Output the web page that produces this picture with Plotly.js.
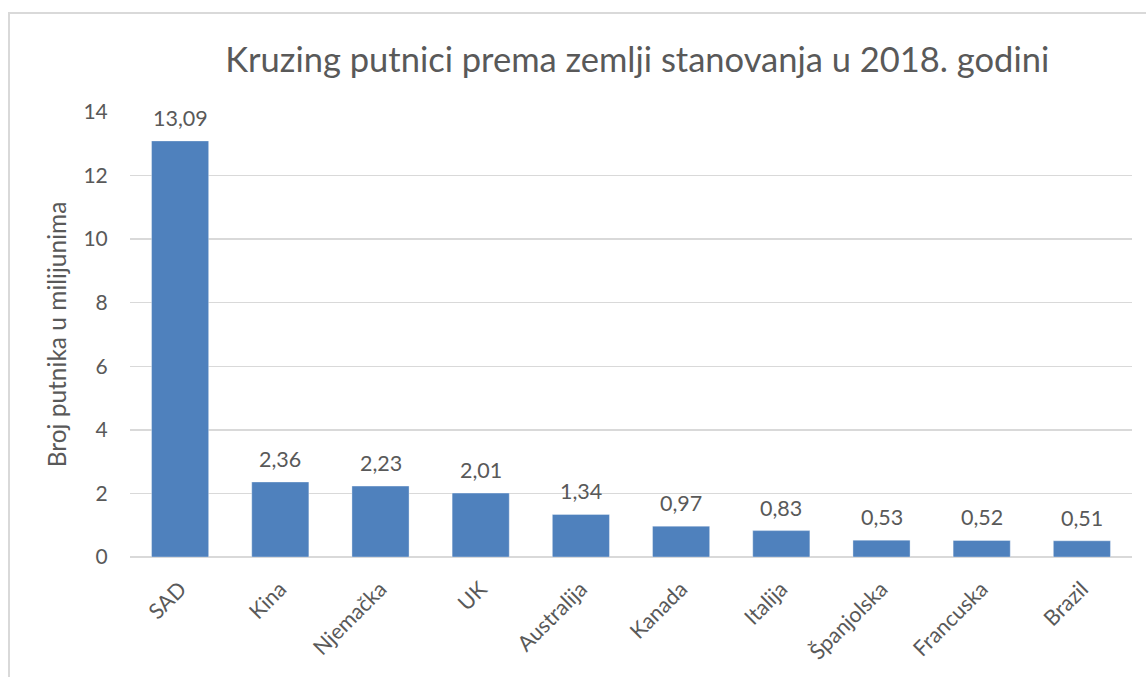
<!DOCTYPE html>
<html>
<head>
<meta charset="utf-8">
<script src="https://cdn.plot.ly/plotly-3.0.1.min.js"></script>
<style>
  html, body { margin: 0; padding: 0; background: #fff; overflow: hidden; }
  #wrap { position: relative; width: 1146px; height: 677px; }
  #chart { position: absolute; left: 0; top: 0; width: 1146px; height: 677px; }
  #frame { position: absolute; left: 8px; top: 12px; width: 1160px; height: 700px;
           border: 2px solid #d9d9d9; pointer-events: none; box-sizing: border-box; }
</style>
</head>
<body>
<div id="wrap">
  <div id="chart"></div>
  <div id="frame"></div>
</div>
<script>
const categories = ["SAD", "Kina", "Njemačka", "UK", "Australija", "Kanada", "Italija", "Španjolska", "Francuska", "Brazil"];
const values = [13.09, 2.36, 2.23, 2.01, 1.34, 0.97, 0.83, 0.53, 0.52, 0.51];
const yTicks = [0, 2, 4, 6, 8, 10, 12, 14];
const titleText = "Kruzing putnici prema zemlji stanovanja u 2018. godini";
const yTitleText = "Broj putnika u milijunima";

const FONT = "Lato, 'Open Sans', sans-serif";
const TXT = "#595959";

const trace = {
  type: "bar",
  x: categories,
  y: values,
  marker: { color: "#4f81bd", line: { color: "rgba(255,255,255,0.35)", width: 1 } },
  hoverinfo: "x+y"
};

const annotations = categories.map((c, i) => ({
  x: c, y: values[i], xref: "x", yref: "y",
  text: values[i].toFixed(2).replace(".", ","),
  showarrow: false, yanchor: "bottom", yshift: 8,
  font: { family: FONT, size: 21.5, color: TXT }
}));

const layout = {
  width: 1146, height: 677,
  margin: { l: 130, r: 14, t: 112, b: 120, pad: 0 },
  paper_bgcolor: "rgba(0,0,0,0)",
  plot_bgcolor: "#fff",
  separators: ",.",
  bargap: 0.43,
  showlegend: false,
  title: {
    text: titleText,
    font: { family: FONT, size: 34.5, color: TXT },
    x: 0.556, xanchor: "center", y: 0.912, yanchor: "middle"
  },
  xaxis: {
    type: "category",
    tickangle: -45,
    ticks: "outside", ticklen: 10, tickcolor: "rgba(0,0,0,0)",
    tickfont: { family: FONT, size: 21.5, color: TXT },
    showgrid: false, zeroline: false,
    showline: false
  },
  yaxis: {
    range: [0, 14],
    tickvals: yTicks,
    ticktext: yTicks.map(String),
    ticks: "outside", ticklen: 17, tickcolor: "rgba(0,0,0,0)",
    tickfont: { family: FONT, size: 21, color: TXT },
    showgrid: true, gridcolor: "#d9d9d9", gridwidth: 1.5,
    zeroline: true, zerolinecolor: "#d9d9d9", zerolinewidth: 2,
    showline: false,
    title: { text: yTitleText, font: { family: FONT, size: 24.5, color: TXT }, standoff: 9 }
  },
  annotations: annotations
};

Plotly.newPlot("chart", [trace], layout, { displayModeBar: false, staticPlot: true });
</script>
</body>
</html>
